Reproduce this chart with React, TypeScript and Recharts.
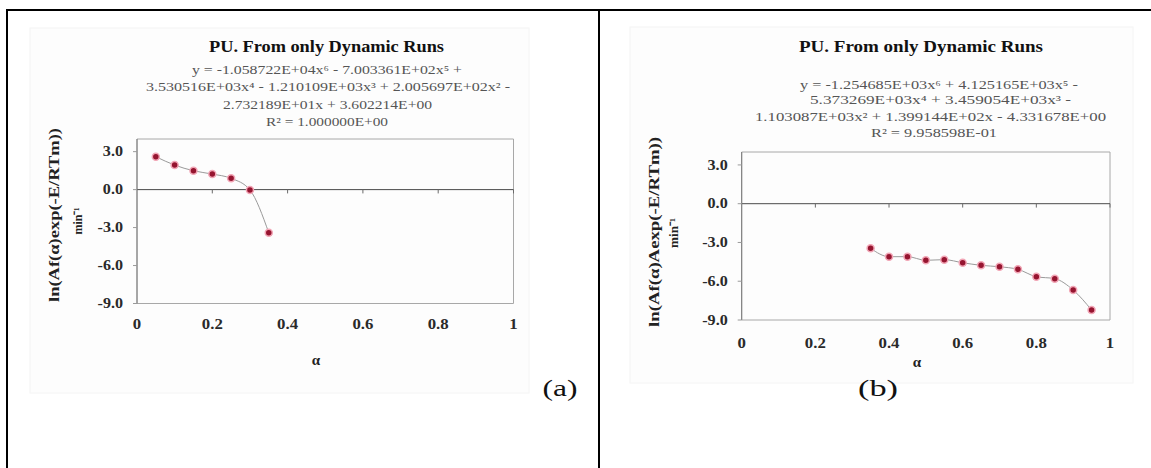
import React from 'react';
import { LineChart, Line, XAxis, YAxis, ReferenceLine, ReferenceArea } from 'recharts';

// ---- data ----
const alphaA = [0.05, 0.1, 0.15, 0.2, 0.25, 0.3, 0.35];
const lnA = [2.6, 1.94, 1.49, 1.23, 0.89, -0.03, -3.41];

const alphaB = [0.35, 0.4, 0.45, 0.5, 0.55, 0.6, 0.65, 0.7, 0.75, 0.8, 0.85, 0.9, 0.95];
const lnB = [-3.45, -4.1, -4.1, -4.38, -4.33, -4.57, -4.77, -4.88, -5.08, -5.65, -5.8, -6.68, -8.23];

const xTicks = [0, 0.2, 0.4, 0.6, 0.8, 1];
const xTickLabels = ['0', '0.2', '0.4', '0.6', '0.8', '1'];
const yTicks = [-9, -6, -3, 0, 3];
const yTickLabels = ['-9.0', '-6.0', '-3.0', '0.0', '3.0'];

const chartTitle = 'PU. From only Dynamic Runs';
const eqA = [
  'y = -1.058722E+04x⁶ - 7.003361E+02x⁵ +',
  '3.530516E+03x⁴ - 1.210109E+03x³ + 2.005697E+02x² -',
  '2.732189E+01x + 3.602214E+00',
  'R² = 1.000000E+00',
];
const eqB = [
  'y = -1.254685E+03x⁶ + 4.125165E+03x⁵ -',
  '5.373269E+03x⁴ + 3.459054E+03x³ -',
  '1.103087E+03x² + 1.399144E+02x - 4.331678E+00',
  'R² = 9.958598E-01',
];
const yLabelA = 'ln(Af(α)exp(-E/RTm))';
const yLabelB = 'ln(Af(α)Aexp(-E/RTm))';
const yUnit = 'min⁻¹';
const xLabel = 'α';
const panelA = '(a)';
const panelB = '(b)';

const dataA = alphaA.map((a, i) => ({ alpha: a, v: lnA[i] }));
const dataB = alphaB.map((a, i) => ({ alpha: a, v: lnB[i] }));

const SERIF = '"Liberation Serif", "Times New Roman", serif';

const XTick = (props: any) => {
  const { x, y, payload } = props;
  const i = xTicks.indexOf(payload.value);
  return (
    <text
      x={0}
      y={0}
      transform={`translate(${x},${y}) scale(1.2,1)`}
      textAnchor="middle"
      dominantBaseline="central"
      fontFamily={SERIF}
      fontWeight="bold"
      fontSize={14}
      fill="#2a2a2a"
    >
      {xTickLabels[i]}
    </text>
  );
};

const YTick = (props: any) => {
  const { x, y, payload } = props;
  const i = yTicks.indexOf(payload.value);
  return (
    <text
      x={0}
      y={0}
      transform={`translate(${x},${y}) scale(1.15,1)`}
      textAnchor="end"
      dominantBaseline="central"
      fontFamily={SERIF}
      fontWeight="bold"
      fontSize={14}
      fill="#2a2a2a"
    >
      {yTickLabels[i]}
    </text>
  );
};

type PanelProps = {
  data: { alpha: number; v: number }[];
  width: number;
  margin: { top: number; right: number; bottom: number; left: number };
  xTickOffset: number;
};

const Panel = ({ data, width, margin, xTickOffset }: PanelProps) => (
  <LineChart width={width} height={468} data={data} margin={margin}>
    <XAxis
      type="number"
      dataKey="alpha"
      domain={[0, 1]}
      ticks={xTicks}
      axisLine={false}
      tickLine={false}
      tickSize={0}
      tickMargin={xTickOffset}
      height={30}
      tick={<XTick />}
      interval={0}
    />
    <YAxis
      type="number"
      domain={[-9, 4]}
      ticks={yTicks}
      width={60}
      axisLine={{ stroke: '#7a7a7a' }}
      tickLine={{ stroke: '#9a9a9a' }}
      tickSize={4}
      tickMargin={10}
      tick={<YTick />}
      interval={0}
    />
    <ReferenceArea x1={0} x2={1} y1={-9} y2={4} fill="none" stroke="#a8a8a8" strokeWidth={1} />
    <ReferenceLine y={0} stroke="#4a4a4a" strokeWidth={1} />
    {xTicks.slice(1).map((t) => (
      <ReferenceLine
        key={t}
        segment={[
          { x: t, y: 0 },
          { x: t, y: -0.3 },
        ]}
        stroke="#6a6a6a"
      />
    ))}
    <Line
      type="monotone"
      dataKey="v"
      stroke="#9a9a9a"
      strokeWidth={1}
      isAnimationActive={false}
      dot={{ r: 3.5, fill: '#961530', stroke: '#f2a6b6', strokeWidth: 1.5 }}
      activeDot={false}
    />
  </LineChart>
);

const T = (p: {
  x: number;
  y: number;
  len?: number;
  size: number;
  bold?: boolean;
  fill?: string;
  rotate?: boolean;
  children: React.ReactNode;
}) => (
  <text
    x={p.x}
    y={p.y}
    textAnchor="middle"
    dominantBaseline="central"
    fontFamily={SERIF}
    fontSize={p.size}
    fontWeight={p.bold ? 'bold' : 'normal'}
    fill={p.fill || '#111'}
    textLength={p.len}
    lengthAdjust={p.len ? 'spacingAndGlyphs' : undefined}
    transform={p.rotate ? `rotate(-90 ${p.x} ${p.y})` : undefined}
  >
    {p.children}
  </text>
);

export default function App() {
  const eqColor = '#555';
  return (
    <div style={{ position: 'absolute', left: 0, top: 0, width: 1151, height: 468, background: '#fff', overflow: 'hidden' }}>
      <svg width={1151} height={468} style={{ position: 'absolute', left: 0, top: 0 }}>
        <rect x={30} y={28} width={499} height={365} fill="#fdfdfd" stroke="#f4f4f4" />
        <rect x={630} y={27} width={503} height={356} fill="#fdfdfd" stroke="#f4f4f4" />
      </svg>
      <div style={{ position: 'absolute', left: 0, top: 0 }}>
        <Panel data={dataA} width={600} margin={{ top: 139, right: 86.5, bottom: 134.5, left: 77 }} xTickOffset={20.5} />
      </div>
      <div style={{ position: 'absolute', left: 600, top: 0 }}>
        <Panel data={dataB} width={551} margin={{ top: 152, right: 41, bottom: 118, left: 81.7 }} xTickOffset={23} />
      </div>
      <svg width={1151} height={468} style={{ position: 'absolute', left: 0, top: 0, pointerEvents: 'none' }}>
        {/* table borders */}
        <line x1={6} y1={10} x2={1151} y2={10} stroke="#000" strokeWidth={2} />
        <line x1={7} y1={10} x2={7} y2={468} stroke="#000" strokeWidth={2} />
        <line x1={599} y1={10} x2={599} y2={468} stroke="#000" strokeWidth={2} />

        {/* panel a */}
        <T x={326.5} y={46.5} len={235} size={16} bold>{chartTitle}</T>
        <T x={327} y={69.5} len={270} size={12.5} fill={eqColor}>{eqA[0]}</T>
        <T x={328} y={86.5} len={364} size={12.5} fill={eqColor}>{eqA[1]}</T>
        <T x={327.5} y={104.5} len={209} size={12.5} fill={eqColor}>{eqA[2]}</T>
        <T x={327} y={121.5} len={122} size={12.5} fill={eqColor}>{eqA[3]}</T>
        <T x={54} y={215} len={174} size={14} bold rotate fill="#222">{yLabelA}</T>
        <T x={77} y={221} len={27} size={13} bold rotate fill="#222">{yUnit}</T>
        <T x={316} y={360} size={15} bold fill="#222">{xLabel}</T>
        <T x={560} y={388} len={35} size={24}>{panelA}</T>

        {/* panel b */}
        <T x={921} y={46.5} len={244} size={16} bold>{chartTitle}</T>
        <T x={939} y={85} len={278} size={12.5} fill={eqColor}>{eqB[0]}</T>
        <T x={940.5} y={100} len={261} size={12.5} fill={eqColor}>{eqB[1]}</T>
        <T x={930.5} y={116.5} len={351} size={12.5} fill={eqColor}>{eqB[2]}</T>
        <T x={934} y={133} len={126} size={12.5} fill={eqColor}>{eqB[3]}</T>
        <T x={654} y={232} len={190} size={14} bold rotate fill="#222">{yLabelB}</T>
        <T x={673} y={233} len={30} size={13} bold rotate fill="#222">{yUnit}</T>
        <T x={917} y={362} size={15} bold fill="#222">{xLabel}</T>
        <T x={878} y={388} len={40} size={24}>{panelB}</T>
      </svg>
    </div>
  );
}
